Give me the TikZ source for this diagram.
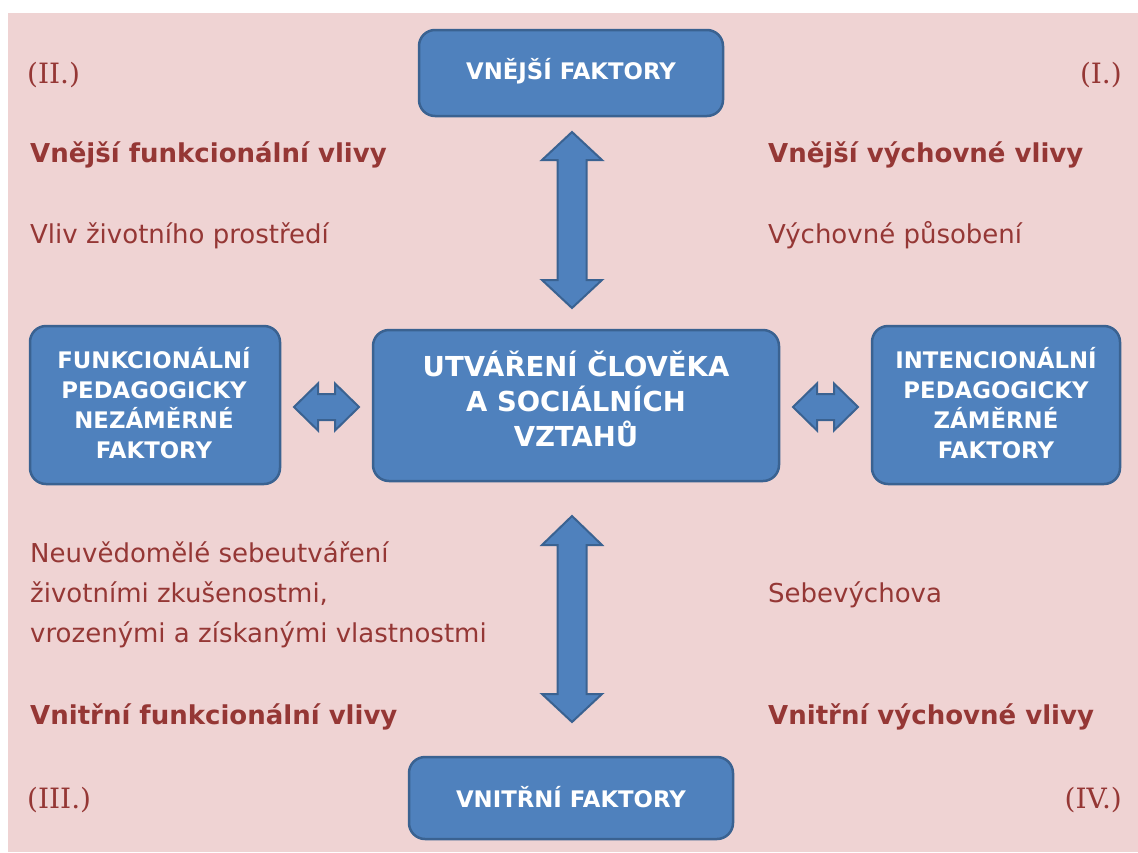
\documentclass[tikz,border=0pt]{standalone}
\usepackage{fontspec}
\setmainfont{DejaVu Sans}
\newfontfamily\romfont{DejaVu Serif}
\definecolor{bgpink}{HTML}{EFD3D3}
\definecolor{boxblue}{HTML}{4F81BD}
\definecolor{boxedge}{HTML}{3A6291}
\definecolor{txtred}{HTML}{953735}
\tikzset{
  bluebox/.style={draw=boxedge, line width=2.5pt, fill=boxblue, rounded corners=16pt, inner sep=0pt},
  boxtext/.style={text=white, font=\bfseries\fontsize{22.8}{30}\selectfont, align=center, inner sep=0pt},
  bigtext/.style={text=white, font=\bfseries\fontsize{27.5}{35}\selectfont, align=center, inner sep=0pt},
  lbl/.style={text=txtred, font=\fontsize{26}{40}\selectfont, anchor=base west, inner sep=0pt, align=left},
  blbl/.style={text=txtred, font=\bfseries\fontsize{26}{40}\selectfont, anchor=base west, inner sep=0pt},
  roman/.style={text=txtred, font=\romfont\fontsize{28}{30}\selectfont, inner sep=0pt},
  blockarrow/.style={draw=boxedge, line width=2pt, fill=boxblue, line join=miter},
}
\begin{document}
\begin{tikzpicture}[x=1pt,y=-1pt]
\useasboundingbox (0,0) rectangle (1138,852);
\fill[white] (0,0) rectangle (1138,852);
\fill[bgpink] (8,13) rectangle (1138,852);

% boxes
\draw[bluebox] (419,30) rectangle (723,116);
\node[boxtext] (top) at (571,71) {VNĚJŠÍ FAKTORY};
\draw[bluebox] (409,757) rectangle (733,839);
\node[boxtext] (bottom) at (571,797) {VNITŘNÍ FAKTORY};
\draw[bluebox] (30,326) rectangle (280,484);
\node[boxtext] (left) at (154,403) {FUNKCIONÁLNÍ\\PEDAGOGICKY\\NEZÁMĚRNÉ\\FAKTORY};
\draw[bluebox] (373,330) rectangle (779,481);
\node[bigtext] (center) at (576,399) {UTVÁŘENÍ ČLOVĚKA\\A SOCIÁLNÍCH\\VZTAHŮ};
\draw[bluebox] (872,326) rectangle (1120,484);
\node[boxtext] (right) at (996,403) {INTENCIONÁLNÍ\\PEDAGOGICKY\\ZÁMĚRNÉ\\FAKTORY};

% block arrows
\draw[blockarrow] (572,132) -- (602,160) -- (586.5,160) -- (586.5,280) -- (602,280) -- (572,308)
  -- (542,280) -- (557.5,280) -- (557.5,160) -- (542,160) -- cycle;
\draw[blockarrow] (572,516) -- (602,545) -- (586.5,545) -- (586.5,694) -- (602,694) -- (572,722)
  -- (542,694) -- (557.5,694) -- (557.5,545) -- (542,545) -- cycle;
\draw[blockarrow] (294,407) -- (318,383.5) -- (318,394) -- (335,394) -- (335,383.5) -- (359,407)
  -- (335,430.5) -- (335,420) -- (318,420) -- (318,430.5) -- cycle;
\draw[blockarrow] (793,407) -- (817,383.5) -- (817,394) -- (834,394) -- (834,383.5) -- (858,407)
  -- (834,430.5) -- (834,420) -- (817,420) -- (817,430.5) -- cycle;

% labels
\node[roman, anchor=base west] (q2) at (27,83) {(II.)};
\node[roman, anchor=base east] (q1) at (1122,83) {(I.)};
\node[roman, anchor=base west] (q3) at (27,808) {(III.)};
\node[roman, anchor=base east] (q4) at (1122,808) {(IV.)};

\node[blbl] (l1) at (30,162) {Vnější funkcionální vlivy};
\node[lbl] (l2) at (30,243) {Vliv životního prostředí};
\node[blbl] (r1) at (768,162) {Vnější výchovné vlivy};
\node[lbl] (r2) at (768,243) {Výchovné působení};
\node[lbl] (l3) at (30,642) {Neuvědomělé sebeutváření\\životními zkušenostmi,\\vrozenými a získanými vlastnostmi};
\node[lbl] (r3) at (768,602) {Sebevýchova};
\node[blbl] (l4) at (30,724) {Vnitřní funkcionální vlivy};
\node[blbl] (r4) at (768,724) {Vnitřní výchovné vlivy};
\end{tikzpicture}
\end{document}
